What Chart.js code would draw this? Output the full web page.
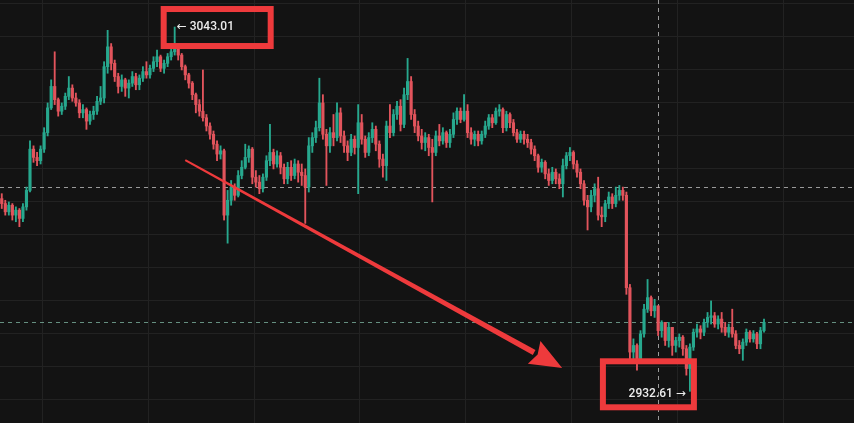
<!DOCTYPE html>
<html>
<head>
<meta charset="utf-8">
<script src="https://cdn.jsdelivr.net/npm/chart.js@4.4.1/dist/chart.umd.min.js"></script>
<style>
  html, body { margin: 0; padding: 0; background: #131313; overflow: hidden; }
  canvas { display: block; }
</style>
</head>
<body>
<canvas id="c" width="854" height="423"></canvas>
<script>
// ---------------- DATA ----------------
const FIRST_OPEN = 2991.0;
const CLOSE = [
  2989.5, 2987.0, 2989.0, 2986.0, 2987.5, 2985.0, 2988.5, 2993.5, 3006.0, 3003.5,
  3002.5, 3006.0, 3011.0, 3018.5, 3025.0, 3021.0, 3017.5, 3019.0, 3022.0, 3024.5,
  3021.5, 3020.0, 3017.0, 3018.0, 3014.5, 3016.5, 3017.5, 3020.5, 3021.5, 3031.0,
  3037.0, 3032.0, 3028.0, 3025.0, 3027.0, 3024.5, 3026.0, 3028.0, 3025.5, 3027.5,
  3029.5, 3028.5, 3030.5, 3032.5, 3034.0, 3030.5, 3032.0, 3034.0, 3035.5, 3037.0,
  3034.5, 3031.0, 3028.5, 3026.0, 3022.5, 3019.5, 3017.5, 3015.5, 3013.0, 3010.5,
  3007.5, 3004.5, 3005.5, 2986.0, 2990.5, 2994.5, 2992.0, 2998.0, 3000.5, 3003.5,
  3006.0, 2997.5, 2996.0, 2994.0, 2997.5, 3002.5, 3005.0, 3001.5, 3004.0, 3000.5,
  2997.0, 3000.5, 2998.0, 3001.5, 2999.0, 2998.0, 2994.5, 3007.0, 3009.5, 3012.5,
  3020.0, 3010.5, 3007.0, 3011.0, 3009.5, 3017.0, 3010.0, 3007.0, 3005.0, 3009.0,
  3006.5, 3014.0, 3009.0, 3005.0, 3009.5, 3012.0, 3007.5, 3003.0, 3001.0, 3013.0,
  3011.0, 3016.5, 3019.0, 3013.5, 3022.5, 3026.5, 3016.5, 3013.0, 3010.0, 3008.0,
  3009.5, 3006.5, 3005.0, 3010.0, 3008.5, 3011.0, 3008.0, 3010.5, 3015.0, 3017.5,
  3015.0, 3017.5, 3011.0, 3009.0, 3010.5, 3008.5, 3010.5, 3013.0, 3015.5, 3014.0,
  3017.5, 3018.0, 3012.5, 3016.5, 3014.0, 3011.0, 3009.0, 3010.5, 3009.0, 3008.0,
  3006.0, 3004.0, 3000.5, 3002.0, 2998.5, 2996.5, 2999.0, 2997.0, 2995.5, 3001.0,
  3004.0, 3005.0, 3001.5, 2999.0, 2995.5, 2990.5, 2988.5, 2992.0, 2994.0, 2986.0,
  2985.5, 2989.5, 2991.5, 2989.5, 2992.0, 2993.5, 2992.0, 2964.0, 2944.5, 2946.5,
  2942.5, 2950.0, 2957.5, 2961.0, 2957.0, 2958.5, 2951.0, 2953.5, 2948.0, 2952.0,
  2946.5, 2948.0, 2949.0, 2945.5, 2939.5, 2946.0, 2950.5, 2951.5, 2950.5, 2953.5,
  2955.0, 2955.5, 2953.0, 2954.5, 2952.0, 2950.5, 2952.0, 2950.0, 2946.5, 2945.5,
  2947.5, 2950.5, 2948.5, 2950.0, 2947.0, 2951.0, 2953.5
];
const HIGH = [
  2992.5, 2990.5, 2990.0, 2989.5, 2988.5, 2988.0, 2989.5, 2994.5, 3008.5, 3007.0,
  3005.0, 3007.0, 3012.5, 3020.0, 3027.0, 3035.5, 3021.5, 3020.0, 3023.0, 3028.0,
  3025.5, 3023.0, 3021.0, 3019.5, 3018.5, 3017.5, 3019.0, 3022.0, 3025.0, 3032.5,
  3042.0, 3038.0, 3033.0, 3029.0, 3028.5, 3027.5, 3027.0, 3029.5, 3029.0, 3028.5,
  3031.0, 3032.5, 3031.5, 3034.0, 3036.0, 3034.5, 3033.0, 3035.0, 3037.0, 3043.01,
  3037.5, 3035.0, 3031.5, 3029.0, 3026.5, 3023.0, 3021.0, 3030.0, 3016.5, 3014.0,
  3011.5, 3008.5, 3007.0, 3006.0, 2993.5, 2996.5, 2995.5, 2999.5, 3002.5, 3007.5,
  3007.0, 3006.5, 2999.5, 2998.0, 2998.5, 3004.0, 3013.5, 3006.0, 3005.5, 3005.0,
  3001.5, 3002.0, 3002.5, 3003.0, 3002.5, 3001.5, 3000.0, 3009.5, 3011.0, 3014.5,
  3027.5, 3022.5, 3012.0, 3012.5, 3016.5, 3020.0, 3018.5, 3011.5, 3008.5, 3010.5,
  3010.0, 3019.5, 3016.5, 3010.0, 3011.0, 3014.0, 3013.0, 3008.5, 3004.5, 3014.5,
  3019.5, 3018.0, 3020.5, 3021.0, 3024.5, 3033.5, 3028.0, 3018.0, 3014.5, 3012.0,
  3011.0, 3010.5, 3009.0, 3011.5, 3013.5, 3012.5, 3011.5, 3012.0, 3017.0, 3018.5,
  3018.5, 3022.5, 3019.5, 3012.5, 3011.5, 3011.5, 3011.5, 3014.5, 3016.5, 3016.5,
  3018.5, 3019.5, 3018.5, 3017.5, 3017.0, 3015.0, 3012.0, 3011.5, 3011.5, 3010.5,
  3009.0, 3007.0, 3004.5, 3003.0, 3002.5, 3000.0, 3000.5, 3000.0, 2998.5, 3003.0,
  3005.0, 3006.5, 3005.5, 3002.5, 3000.0, 2996.5, 2992.0, 2993.5, 2995.5, 2997.5,
  2988.5, 2990.5, 2993.0, 2992.5, 2994.5, 2995.0, 2994.5, 2993.0, 2965.0, 2948.5,
  2947.0, 2951.0, 2959.0, 2966.5, 2961.5, 2960.5, 2958.5, 2954.0, 2953.5, 2953.5,
  2952.0, 2949.0, 2950.0, 2949.5, 2946.5, 2947.0, 2951.5, 2953.0, 2952.5, 2954.5,
  2956.5, 2960.0, 2956.5, 2955.5, 2956.5, 2953.5, 2953.0, 2957.5, 2951.0, 2948.0,
  2948.5, 2951.5, 2951.0, 2951.0, 2950.5, 2952.0, 2954.5
];
const LOW = [
  2988.0, 2986.0, 2986.0, 2984.5, 2984.0, 2982.5, 2984.0, 2987.5, 2993.0, 3002.0,
  3001.0, 3001.5, 3005.0, 3010.0, 3018.0, 3019.5, 3016.0, 3016.5, 3018.0, 3021.0,
  3020.5, 3019.0, 3015.5, 3015.5, 3012.0, 3013.5, 3015.0, 3016.5, 3019.5, 3020.0,
  3029.0, 3030.0, 3026.5, 3023.0, 3023.5, 3022.0, 3021.5, 3025.0, 3024.0, 3024.0,
  3026.5, 3027.5, 3027.5, 3029.5, 3031.0, 3029.5, 3029.0, 3031.0, 3033.0, 3034.5,
  3033.0, 3030.0, 3027.0, 3024.5, 3021.0, 3017.0, 3016.0, 3014.5, 3011.5, 3009.0,
  3006.0, 3002.5, 3003.0, 2984.5, 2977.5, 2989.0, 2990.5, 2991.5, 2997.0, 3000.0,
  3002.0, 2995.5, 2994.5, 2992.5, 2993.0, 2996.5, 3001.0, 3000.0, 3000.5, 2998.5,
  2995.5, 2995.5, 2996.5, 2997.0, 2996.0, 2995.0, 2983.5, 2993.0, 3005.0, 3008.0,
  3011.5, 3009.0, 2995.0, 3005.0, 3007.0, 3008.5, 3008.0, 3005.0, 3002.5, 3004.0,
  3004.5, 2992.5, 3007.5, 3003.5, 3004.0, 3008.0, 3005.5, 3000.5, 2997.5, 2996.5,
  3009.5, 3010.0, 3015.0, 3011.5, 3012.5, 3021.0, 3015.0, 3011.0, 3008.5, 3006.0,
  3005.5, 3004.0, 2990.0, 3004.0, 3007.0, 3007.5, 3006.5, 3006.5, 3009.5, 3013.5,
  3014.0, 3014.5, 3009.5, 3007.5, 3007.0, 3007.0, 3007.5, 3009.5, 3012.0, 3012.5,
  3013.5, 3016.0, 3011.0, 3011.5, 3012.5, 3010.0, 3008.0, 3008.0, 3007.5, 3006.5,
  3004.5, 3002.5, 2999.0, 2999.0, 2997.0, 2995.0, 2995.5, 2995.5, 2994.0, 2991.5,
  3000.0, 3002.5, 3000.0, 2997.5, 2994.0, 2989.0, 2981.5, 2987.0, 2990.0, 2984.5,
  2982.5, 2984.0, 2988.0, 2988.0, 2988.5, 2990.5, 2990.5, 2962.0, 2942.5, 2941.0,
  2939.0, 2941.5, 2949.0, 2956.5, 2955.5, 2955.0, 2949.5, 2949.0, 2946.5, 2946.0,
  2943.5, 2944.5, 2946.0, 2943.5, 2937.5, 2932.61, 2945.0, 2949.0, 2948.5, 2949.5,
  2952.0, 2953.0, 2952.0, 2951.5, 2950.5, 2949.5, 2949.0, 2949.0, 2945.5, 2944.0,
  2942.0, 2946.5, 2947.5, 2947.5, 2945.5, 2945.5, 2950.5
];
const OPEN = CLOSE.map((c, i) => i === 0 ? FIRST_OPEN : CLOSE[i - 1]);

const SLOT_COUNT = 242;               // visible bar slots (incl. empty right margin)
const LABELS = Array.from({length: SLOT_COUNT}, (_, i) => String(i));
const Y_TICKS = [2930, 2940, 2950, 2960, 2970, 2980, 2990, 3000, 3010, 3020, 3030, 3040, 3050];
const Y_MIN = 2923.0, Y_MAX = 3051.2;
const PRICE_LINES = [ {value: 2994.5, color: 'rgba(200,200,200,0.75)'},
                      {value: 2953.6, color: 'rgba(130,185,165,0.75)'} ];
const CROSS_INDEX = 186;
const ARROW_FROM = [52, 3002.7], ARROW_TO = [158.8, 2939.7];

// ---------------- STYLE ----------------
const BG = '#131313', GRID = '#222222';
const UP = '#27a88e', DOWN = '#e2545c';
const MARK = '#ee3a3c';
const GRID_FIRST = 12, GRID_EVERY = 30;

const colors = CLOSE.map((c, i) => c >= OPEN[i] ? UP : DOWN);
const bodyData = CLOSE.map((c, i) => [OPEN[i], c]);
const wickData = CLOSE.map((c, i) => [Math.min(LOW[i], OPEN[i], c), Math.max(HIGH[i], OPEN[i], c)]);

let hiIdx = 0, loIdx = 0;
HIGH.forEach((v, i) => { if (v > HIGH[hiIdx]) hiIdx = i; });
LOW.forEach((v, i) => { if (v < LOW[loIdx]) loIdx = i; });

const bgPlugin = {
  id: 'bg',
  beforeDraw(c) {
    const ctx = c.ctx; ctx.save(); ctx.fillStyle = BG;
    ctx.fillRect(0, 0, c.width, c.height); ctx.restore();
  },
  beforeDatasetsDraw(c) {
    const ctx = c.ctx, xs = c.scales.x, ys = c.scales.y;
    ctx.save();
    ctx.lineWidth = 1; ctx.setLineDash([4, 4]);
    PRICE_LINES.forEach(p => {
      const py = Math.round(ys.getPixelForValue(p.value)) + 0.5;
      ctx.strokeStyle = p.color; ctx.beginPath();
      ctx.moveTo(0, py); ctx.lineTo(c.width, py); ctx.stroke();
    });
    const px = Math.round(xs.getPixelForValue(CROSS_INDEX)) + 0.5;
    ctx.strokeStyle = 'rgba(200,200,200,0.75)';
    ctx.beginPath(); ctx.moveTo(px, 0); ctx.lineTo(px, c.height); ctx.stroke();
    ctx.restore();
  },
  afterDatasetsDraw(c) {
    const ctx = c.ctx, xs = c.scales.x, ys = c.scales.y;
    ctx.save();
    ctx.font = '500 12px Roboto, "DejaVu Sans", sans-serif';
    ctx.fillStyle = '#ececec';
    ctx.textBaseline = 'middle';
    // high label
    const hx = xs.getPixelForValue(hiIdx), hy = ys.getPixelForValue(HIGH[hiIdx]);
    const tx = hx + 2;
    ctx.textAlign = 'left';
    ctx.fillText('\u2190 ' + HIGH[hiIdx].toFixed(2), tx, hy);
    // low label
    const lx = xs.getPixelForValue(loIdx), ly = ys.getPixelForValue(LOW[loIdx]);
    ctx.textAlign = 'right';
    ctx.fillText(LOW[loIdx].toFixed(2) + ' \u2192', lx - 4, ly + 3);
    // red boxes
    ctx.strokeStyle = MARK; ctx.lineWidth = 6; ctx.lineJoin = 'miter';
    ctx.strokeRect(tx - 13, hy - 18, 107, 37);
    ctx.strokeRect(lx - 87, ly - 30, 91, 46);
    // arrow
    const x1 = xs.getPixelForValue(ARROW_FROM[0]), y1 = ys.getPixelForValue(ARROW_FROM[1]);
    const x2 = xs.getPixelForValue(ARROW_TO[0]), y2 = ys.getPixelForValue(ARROW_TO[1]);
    const dx = x2 - x1, dy = y2 - y1, len = Math.hypot(dx, dy);
    const ux = dx / len, uy = dy / len, nx = -uy, ny = ux;
    const headLen = 32, headW = 13;
    const bx = x2 - ux * headLen, by = y2 - uy * headLen;
    ctx.fillStyle = MARK;
    ctx.beginPath();
    ctx.moveTo(x1 + nx * 1, y1 + ny * 1);
    ctx.lineTo(bx + nx * 2.8, by + ny * 2.8);
    ctx.lineTo(bx - nx * 2.8, by - ny * 2.8);
    ctx.lineTo(x1 - nx * 1, y1 - ny * 1);
    ctx.closePath(); ctx.fill();
    ctx.beginPath();
    ctx.moveTo(x2, y2);
    ctx.lineTo(bx + nx * headW, by + ny * headW);
    ctx.lineTo(bx + ux * 4, by + uy * 4);
    ctx.lineTo(bx - nx * headW, by - ny * headW);
    ctx.closePath(); ctx.fill();
    ctx.restore();
  }
};

new Chart(document.getElementById('c'), {
  type: 'bar',
  data: {
    labels: LABELS,
    datasets: [
      { label: 'body', data: bodyData, backgroundColor: colors, barThickness: 2.5,
        minBarLength: 1, grouped: false, borderWidth: 0 },
      { label: 'wick', data: wickData, backgroundColor: colors, barThickness: 1.2,
        grouped: false, borderWidth: 0 }
    ]
  },
  options: {
    responsive: false, animation: false, devicePixelRatio: 1, events: [],
    layout: { padding: 0 },
    plugins: { legend: { display: false }, tooltip: { enabled: false } },
    scales: {
      x: {
        type: 'category', offset: true,
        ticks: { display: false },
        border: { display: false },
        grid: {
          offset: true, drawTicks: false, tickLength: 0, lineWidth: 1,
          color: ctx => (typeof ctx.index === 'number' && ctx.index >= GRID_FIRST &&
                         (ctx.index - GRID_FIRST) % GRID_EVERY === 0) ? GRID : 'rgba(0,0,0,0)'
        }
      },
      y: {
        type: 'linear', min: Y_MIN, max: Y_MAX,
        ticks: { display: false },
        border: { display: false },
        afterBuildTicks: s => { s.ticks = Y_TICKS.map(v => ({ value: v })); },
        grid: { color: GRID, drawTicks: false, tickLength: 0, lineWidth: 1 }
      }
    }
  },
  plugins: [bgPlugin]
});
</script>
</body>
</html>
